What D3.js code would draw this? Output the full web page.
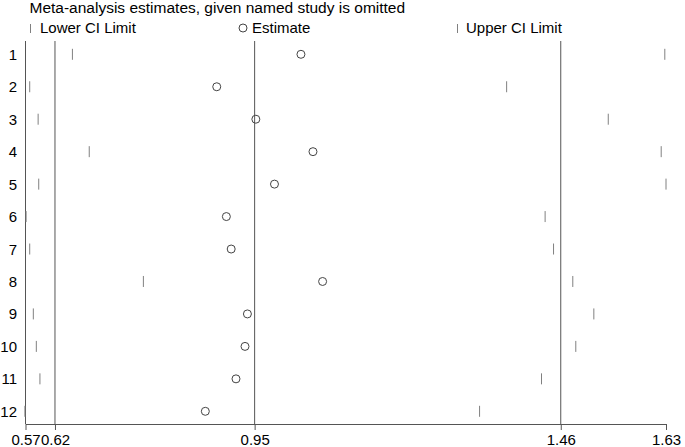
<!DOCTYPE html>
<html>
<head>
<meta charset="utf-8">
<script src="https://cdn.jsdelivr.net/npm/d3@7"></script>
<style>
  html, body { margin: 0; padding: 0; background: #fff; }
  svg { display: block; }
  text { font-family: "Liberation Sans", Arial, Helvetica, sans-serif; fill: #000; }
</style>
</head>
<body>
<svg id="chart" width="685" height="447"></svg>
<script>
// ---- data ----
const studies   = ["1","2","3","4","5","6","7","8","9","10","11","12"];
const estimates = [1.027, 0.887, 0.952, 1.047, 0.983, 0.903, 0.911, 1.063, 0.938, 0.934, 0.919, 0.868];
const lowerCI   = [0.647, 0.576, 0.590, 0.675, 0.591, 0.570, 0.576, 0.765, 0.582, 0.587, 0.593, 0.568];
const upperCI   = [1.632, 1.369, 1.538, 1.626, 1.634, 1.433, 1.447, 1.479, 1.514, 1.484, 1.427, 1.324];
const overallLines = [0.618, 0.950, 1.459];          // combined lower CI, estimate, upper CI
const axisDomain   = [0.569, 1.634];
const tickValues   = [0.569, 0.618, 0.950, 1.459, 1.634];
const titleText    = "Meta-analysis estimates, given named study is omitted";
const legendLabels = ["Lower CI Limit", "Estimate", "Upper CI Limit"];

// ---- layout ----
const svg = d3.select("#chart");
const plotTop = 41, plotBottom = 424;
const x = d3.scaleLinear().domain(axisDomain).range([25.5, 666]);
const y = d3.scalePoint().domain(studies).range([54.3, 411.3]);

const lineColor = "#555";
const tickColor = "#808080";
const circColor = "#444";

// title
svg.append("text").attr("x", 29.5).attr("y", 13).attr("font-size", 15.5).text(titleText);

// legend
const legY = 33;
const lg = svg.append("g");
lg.append("line").attr("x1", 30.5).attr("x2", 30.5).attr("y1", legY - 9).attr("y2", legY).attr("stroke", tickColor);
lg.append("text").attr("x", 40).attr("y", legY).attr("font-size", 15).text(legendLabels[0]);
lg.append("circle").attr("cx", 243).attr("cy", legY - 5).attr("r", 4).attr("fill", "none").attr("stroke", circColor);
lg.append("text").attr("x", 252).attr("y", legY).attr("font-size", 15).text(legendLabels[1]);
lg.append("line").attr("x1", 457.5).attr("x2", 457.5).attr("y1", legY - 9).attr("y2", legY).attr("stroke", tickColor);
lg.append("text").attr("x", 466).attr("y", legY).attr("font-size", 15).text(legendLabels[2]);

// left axis line
svg.append("line")
  .attr("x1", x(axisDomain[0])).attr("x2", x(axisDomain[0]))
  .attr("y1", plotTop).attr("y2", plotBottom)
  .attr("stroke", lineColor);

// overall reference lines
svg.selectAll("line.ref").data(overallLines).join("line")
  .attr("class", "ref")
  .attr("x1", d => x(d)).attr("x2", d => x(d))
  .attr("y1", plotTop).attr("y2", plotBottom)
  .attr("stroke", lineColor);

// bottom axis
const xAxis = d3.axisBottom(x).tickValues(tickValues).tickFormat(d3.format(".2f")).tickSize(6).tickSizeOuter(0);
const ax = svg.append("g").attr("transform", `translate(0,${plotBottom})`).call(xAxis);
ax.select(".domain").attr("stroke", lineColor);
ax.selectAll(".tick line").attr("stroke", lineColor);
ax.selectAll(".tick text").attr("font-size", 15).attr("dy", 0).attr("y", 20.5)
  .attr("font-family", "Liberation Sans, Arial, sans-serif").attr("fill", "#000");

// row labels
svg.selectAll("text.row").data(studies).join("text")
  .attr("class", "row")
  .attr("x", 17).attr("y", d => y(d) + 5.5)
  .attr("text-anchor", "end").attr("font-size", 15)
  .text(d => d);

// lower CI ticks
svg.selectAll("line.lo").data(studies).join("line")
  .attr("class", "lo")
  .attr("x1", (d, i) => x(lowerCI[i])).attr("x2", (d, i) => x(lowerCI[i]))
  .attr("y1", d => y(d) - 5.5).attr("y2", d => y(d) + 5.5)
  .attr("stroke", tickColor);

// upper CI ticks
svg.selectAll("line.hi").data(studies).join("line")
  .attr("class", "hi")
  .attr("x1", (d, i) => x(upperCI[i])).attr("x2", (d, i) => x(upperCI[i]))
  .attr("y1", d => y(d) - 5.5).attr("y2", d => y(d) + 5.5)
  .attr("stroke", tickColor);

// estimates
svg.selectAll("circle.est").data(studies).join("circle")
  .attr("class", "est")
  .attr("cx", (d, i) => x(estimates[i]))
  .attr("cy", d => y(d))
  .attr("r", 4)
  .attr("fill", "none")
  .attr("stroke", circColor);
</script>
</body>
</html>
